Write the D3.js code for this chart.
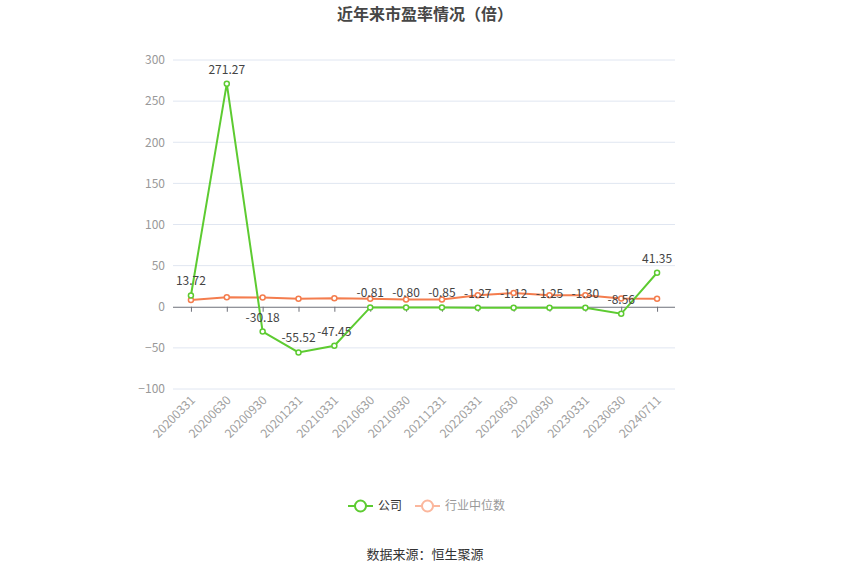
<!DOCTYPE html>
<html lang="zh-cn">
<head>
  <meta charset="utf-8">
  <title>近年来市盈率情况（倍）</title>
  <script src="https://d3js.org/d3.v7.min.js"></script>
  <style>
    body { margin: 0; background: #fff; }
    text { font-family: "Noto Sans CJK SC", "Noto Sans", sans-serif; }
  </style>
</head>
<body>
  <div id="chart"></div>
  <script>
    "use strict"

    // dados
    var datas = ["20200331", "20200630", "20200930", "20201231", "20210331", "20210630", "20210930",
                 "20211231", "20220331", "20220630", "20220930", "20230331", "20230630", "20240711"];
    var empresa = [13.72, 271.27, -30.18, -55.52, -47.45, -0.81, -0.80, -0.85, -1.27, -1.12, -1.25, -1.30, -8.56, 41.35];
    var mediana = [8.1, 11.6, 11.2, 9.6, 10.4, 9.6, 8.9, 8.9, 14.0, 16.8, 14.0, 14.0, 10.0, 9.6];
    var ticksY = [-100, -50, 0, 50, 100, 150, 200, 250, 300];
    var nomes = ["公司", "行业中位数"];

    var largura = 850, altura = 575;
    var verde = "#5dcb31", laranja = "#f47d4e";

    var svg = d3.select("#chart").append("svg")
      .attr("width", largura)
      .attr("height", altura);

    svg.append("text")
      .attr("x", 425).attr("y", 20)
      .attr("text-anchor", "middle")
      .style("font-size", "16px").style("font-weight", "bold")
      .style("fill", "#464646")
      .text("近年来市盈率情况（倍）");

    var x = d3.scalePoint().domain(datas).range([173, 675]).padding(0.5);
    var y = d3.scaleLinear().domain([-100, 300]).range([389, 60]);

    // grade
    svg.append("g").selectAll("line")
      .data(ticksY.filter(function(t) { return t !== 0; }))
      .enter().append("line")
      .attr("x1", 173).attr("x2", 675)
      .attr("y1", function(d) { return y(d); })
      .attr("y2", function(d) { return y(d); })
      .attr("stroke", "#e0e6f1");

    // eixo y
    var eixoY = svg.append("g")
      .attr("transform", "translate(173,0)")
      .call(d3.axisLeft(y).tickValues(ticksY).tickSize(0).tickPadding(8));
    eixoY.select(".domain").remove();
    eixoY.selectAll("text").style("fill", "#999").style("font-size", "12px")
      .style("font-family", "'Noto Sans CJK SC', sans-serif");

    // eixo x no zero
    var eixoX = svg.append("g")
      .attr("transform", "translate(0," + y(0) + ")")
      .call(d3.axisBottom(x).tickSize(5).tickSizeOuter(0).tickFormat(""));
    eixoX.select(".domain").attr("d", "M173,0.5H675").attr("stroke", "#6e7079");
    eixoX.selectAll(".tick line").attr("stroke", "#6e7079");

    // rotulos do eixo x embaixo
    svg.append("g").selectAll("text")
      .data(datas)
      .enter().append("text")
      .attr("transform", function(d) { return "translate(" + (x(d) + 2) + ",398) rotate(-45)"; })
      .attr("text-anchor", "end")
      .attr("dy", "0.35em")
      .style("fill", "#a0a0a0").style("font-size", "12px")
      .text(function(d) { return d; });

    var linha = d3.line()
      .x(function(d, i) { return x(datas[i]); })
      .y(function(d) { return y(d); });

    function serie(valores, cor, rotulos) {
      var g = svg.append("g");
      g.append("path").datum(valores)
        .attr("d", linha)
        .attr("fill", "none").attr("stroke", cor).attr("stroke-width", 2);
      g.selectAll("circle").data(valores).enter().append("circle")
        .attr("cx", function(d, i) { return x(datas[i]); })
        .attr("cy", function(d) { return y(d); })
        .attr("r", 2.5)
        .attr("fill", "#fff").attr("stroke", cor).attr("stroke-width", 1.5);
      if (rotulos) {
        g.selectAll("text").data(valores).enter().append("text")
          .attr("x", function(d, i) { return x(datas[i]); })
          .attr("y", function(d) { return y(d) - 10; })
          .attr("text-anchor", "middle")
          .style("fill", "#444").style("font-size", "12px")
          .text(function(d) { return d.toFixed(2); });
      }
    }

    serie(mediana, laranja, false);
    serie(empresa, verde, true);

    // legenda
    var leg = svg.append("g").attr("transform", "translate(0,506)");
    var itens = [
      { nome: nomes[0], x: 348, cor: verde, texto: "#333" },
      { nome: nomes[1], x: 415, cor: "#fbb79d", texto: "#999" }
    ];
    itens.forEach(function(it) {
      leg.append("line").attr("x1", it.x).attr("x2", it.x + 25)
        .attr("stroke", it.cor).attr("stroke-width", 2);
      leg.append("circle").attr("cx", it.x + 12.5).attr("r", 5.5)
        .attr("fill", "#fff").attr("stroke", it.cor).attr("stroke-width", 2);
      leg.append("text").attr("x", it.x + 30).attr("dy", "0.35em")
        .style("fill", it.texto).style("font-size", "12px")
        .text(it.nome);
    });

    svg.append("text")
      .attr("x", 425).attr("y", 559)
      .attr("text-anchor", "middle")
      .style("fill", "#333").style("font-size", "13px")
      .text("数据来源：恒生聚源");
  </script>
</body>
</html>
